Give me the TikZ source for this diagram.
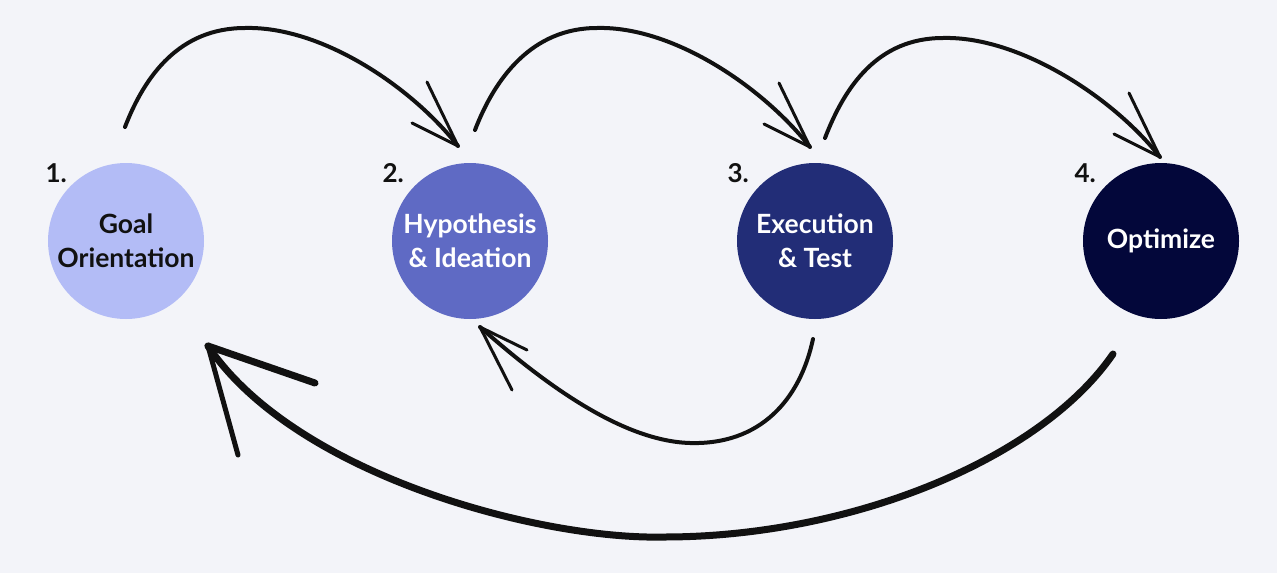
\documentclass[tikz,border=0pt]{standalone}
\usepackage{fontspec}
\setmainfont{Lato}
\definecolor{paper}{HTML}{F3F4F9}
\definecolor{ink}{HTML}{111111}
\definecolor{stepA}{HTML}{B3BCF6}
\definecolor{stepB}{HTML}{5F6AC4}
\definecolor{stepC}{HTML}{222D77}
\definecolor{stepD}{HTML}{03073A}
\tikzset{
	phase/.style={circle, minimum size=156pt, inner sep=0pt, align=center,
		font=\fontsize{26.5}{34}\selectfont\bfseries},
	num/.style={anchor=base west, text=ink, font=\fontsize{26}{28}\selectfont\bfseries},
	sketch/.style={draw=ink, line width=4pt, line cap=round, line join=round},
}

\begin{document}
\begin{tikzpicture}[x=1pt, y=-1pt]
	\fill[paper] (0,0) rectangle (1277,573);

	\node[phase, fill=stepA, text=ink] (goal) at (126,241) {Goal\\Orientation};
	\node[phase, fill=stepB, text=white] (hypo) at (470,241) {Hypothesis\\\& Ideation};
	\node[phase, fill=stepC, text=white] (exec) at (815,241) {Execution\\\& Test};
	\node[phase, fill=stepD, text=white] (opt) at (1161,241) {Optimize};

	\node[num] (n1) at ([shift={(-84,-59)}]goal.center) {1.};
	\node[num] (n2) at ([shift={(-91,-59)}]hypo.center) {2.};
	\node[num] (n3) at ([shift={(-91,-59)}]exec.center) {3.};
	\node[num] (n4) at ([shift={(-90,-59)}]opt.center) {4.};

	% forward arcs
	\foreach \a/\b/\sx/\sy/\px/\py/\tx/\ty in {goal/hypo/-1/-114/120/-99/-12/-95,
		hypo/exec/5/-111/122/-102/-5/-94, exec/opt/10/-103/118/-100/-1/-84}
	{
		\coordinate (s) at ([shift={(\sx,\sy)}]\a.center);
		\coordinate (p) at ([shift={(\px,\py)}]s);
		\coordinate (t) at ([shift={(\tx,\ty)}]\b.center);
		\draw[sketch] (s) .. controls ([shift={(20,-52)}]s) and ([shift={(-65,0)}]p) .. (p)
			.. controls ([shift={(75,-2)}]p) and ([shift={(-48,-61)}]t) .. (t);
		\draw[sketch, line width=3pt] ([shift={(-31,-64)}]t) -- (t) -- ([shift={(-46,-23)}]t);
	}

	% back to hypothesis
	\coordinate (back1s) at ([shift={(-2,98)}]exec.center);
	\coordinate (back1b) at ([shift={(-125,202)}]exec.center);
	\coordinate (back1t) at ([shift={(10,86)}]hypo.center);
	\draw[sketch] (back1s) .. controls ([shift={(-13,61)}]back1s) and ([shift={(70,2)}]back1b) .. (back1b)
		.. controls ([shift={(-70,-2)}]back1b) and ([shift={(60,53)}]back1t) .. (back1t);
	\draw[sketch, line width=3pt] ([shift={(47,23)}]back1t) -- (back1t) -- ([shift={(32,63)}]back1t);

	% back to goal
	\coordinate (back2s) at ([shift={(-48,113)}]opt.center);
	\coordinate (back2b) at ([shift={(-449,183)}]back2s);
	\coordinate (back2t) at ([shift={(82,105)}]goal.center);
	\draw[sketch, line width=7pt] (back2s) .. controls ([shift={(-73,106)}]back2s) and ([shift={(186,0)}]back2b) .. (back2b)
		.. controls ([shift={(-124,3)}]back2b) and ([shift={(87,129)}]back2t) .. (back2t);
	\draw[sketch, line width=7pt] ([shift={(107,37)}]back2t) -- (back2t);
	\draw[sketch, line width=5pt] (back2t) -- ([shift={(30,109)}]back2t);
\end{tikzpicture}
\end{document}
